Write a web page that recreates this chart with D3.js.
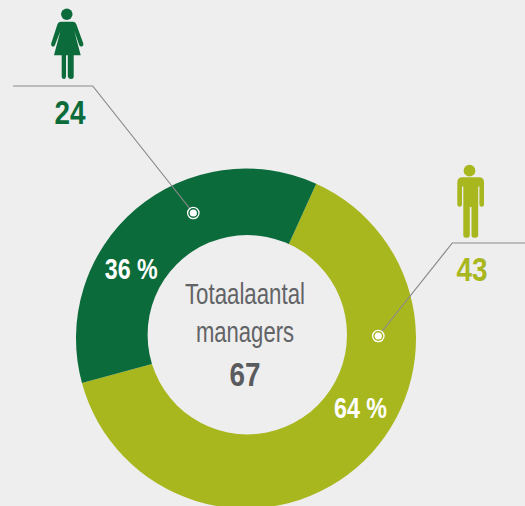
<!DOCTYPE html>
<html>
<head>
<meta charset="utf-8">
<script src="https://d3js.org/d3.v7.min.js"></script>
<style>
  html, body { margin: 0; padding: 0; background: #eeeeee; overflow: hidden; }
  text { font-family: "Liberation Sans", sans-serif; }
</style>
</head>
<body>
<svg id="chart"></svg>
<script>
const categories = ["Mannen", "Vrouwen"];
const counts = [43, 24];
const percents = [64, 36];
const percentLabels = ["64 %", "36 %"];
const colors = ["#a9b71f", "#0c6b3a"];
const totalLabel = ["Totaalaantal", "managers"];
const total = 67;

const width = 525, height = 506;
const background = "#eeeeee";
const cx = 246, cy = 338.5;
const outerR = 170;

const svg = d3.select("#chart")
    .attr("width", width)
    .attr("height", height)
    .style("display", "block");

const startAngle = 24.4 * Math.PI / 180;
const pie = d3.pie().sort(null).startAngle(startAngle).endAngle(startAngle + 2 * Math.PI);
const arc = d3.arc().innerRadius(0).outerRadius(outerR);

svg.append("g")
    .attr("transform", `translate(${cx}, ${cy})`)
    .selectAll(".slice")
    .data(pie(percents))
    .join("path")
    .attr("class", "slice")
    .attr("d", arc)
    .attr("fill", (d, i) => colors[i]);

// The hole sits slightly off the centre of the disc in the original
svg.append("circle")
    .attr("cx", 247.3)
    .attr("cy", 334.7)
    .attr("r", 99.7)
    .attr("fill", background);

// Leader lines with their dots
const leaders = [
    { dot: [378.3, 336], points: [[378.3, 336], [452.3, 243], [525, 243]] },
    { dot: [193.3, 213], points: [[193.3, 213], [92.7, 86], [13, 86]] }
];

svg.selectAll(".leader")
    .data(leaders)
    .join("path")
    .attr("class", "leader")
    .attr("d", d => d3.line()(d.points))
    .attr("fill", "none")
    .attr("stroke", "#8a8a8c")
    .attr("stroke-width", 1.2);

svg.selectAll(".ring")
    .data(leaders)
    .join("circle")
    .attr("class", "ring")
    .attr("cx", d => d.dot[0])
    .attr("cy", d => d.dot[1])
    .attr("r", 5.7)
    .attr("fill", (d, i) => colors[i])
    .attr("stroke", "#fff")
    .attr("stroke-width", 1.3);

svg.selectAll(".dot")
    .data(leaders)
    .join("circle")
    .attr("class", "dot")
    .attr("cx", d => d.dot[0])
    .attr("cy", d => d.dot[1])
    .attr("r", 3.6)
    .attr("fill", "#fff");

// No narrow font installed, so squeeze the glyphs to the original widths
function squeeze(sel, w) {
    sel.attr("textLength", w).attr("lengthAdjust", "spacingAndGlyphs");
}

// Percent labels
const pctPos = [[360.5, 418], [131.3, 279]];
svg.selectAll(".pct")
    .data(percentLabels)
    .join("text")
    .attr("class", "pct")
    .attr("x", (d, i) => pctPos[i][0])
    .attr("y", (d, i) => pctPos[i][1])
    .attr("text-anchor", "middle")
    .attr("font-size", 29)
    .attr("font-weight", 700)
    .attr("fill", "#fff")
    .text(d => d)
    .call(squeeze, 53);

// Center text
const centerWidths = [120, 98];
svg.selectAll(".center")
    .data(totalLabel)
    .join("text")
    .attr("class", "center")
    .attr("x", 245)
    .attr("y", (d, i) => 304.3 + i * 37.4)
    .attr("text-anchor", "middle")
    .attr("font-size", 29)
    .attr("fill", "#626366")
    .attr("textLength", (d, i) => centerWidths[i])
    .attr("lengthAdjust", "spacingAndGlyphs")
    .text(d => d);

svg.append("text")
    .attr("x", 245)
    .attr("y", 386)
    .attr("text-anchor", "middle")
    .attr("font-size", 33)
    .attr("font-weight", 700)
    .attr("fill", "#5a5b5e")
    .text(total)
    .call(squeeze, 31);

// Counts beside the icons
const countPos = [[472, 281], [70, 124]];
svg.selectAll(".count")
    .data(counts)
    .join("text")
    .attr("class", "count")
    .attr("x", (d, i) => countPos[i][0])
    .attr("y", (d, i) => countPos[i][1])
    .attr("text-anchor", "middle")
    .attr("font-size", 33)
    .attr("font-weight", 700)
    .attr("fill", (d, i) => colors[i])
    .text(d => d)
    .call(squeeze, 31);

// Man icon
const man = svg.append("g").attr("fill", colors[0]);
man.append("circle").attr("cx", 469.5).attr("cy", 170.7).attr("r", 5.9);
man.append("path").attr("d",
    "M462.5 177.3 H479 Q484 177.3 484 182.5 V204.5 Q484 206.8 481.7 206.8 Q479.4 206.8 479.4 204.5 V186.5 H478.2 V235 Q478.2 237.7 475.5 237.7 H474 Q471.5 237.7 471.5 235 V207 H469.8 V235 Q469.8 237.7 467 237.7 H466 Q463.3 237.7 463.3 235 V186.5 H462 V204.5 Q462 206.8 459.7 206.8 Q457.3 206.8 457.3 204.5 V182.5 Q457.3 177.3 462.5 177.3 Z");

// Woman icon
const woman = svg.append("g").attr("fill", colors[1]);
woman.append("circle").attr("cx", 66.8).attr("cy", 14.3).attr("r", 5.7);
woman.append("path").attr("d",
    "M61 21.7 H72.8 Q75.5 21.7 76.6 25 L83.3 43.5 Q84 45.8 82 46.4 Q80 47 79.2 45 L74.3 31 L80.7 55.3 H73.7 V76.5 Q73.7 79 71 79 Q68.4 79 67.8 76.5 V55.3 H66 V76.5 Q65.4 79 64.4 79 Q61.7 79 61.7 76.5 V55.3 H54 L60.4 31 L55 45 Q54.2 47 52.2 46.4 Q50.6 45.8 51.2 43.5 L57.2 25 Q58.3 21.7 61 21.7 Z");
</script>
</body>
</html>
